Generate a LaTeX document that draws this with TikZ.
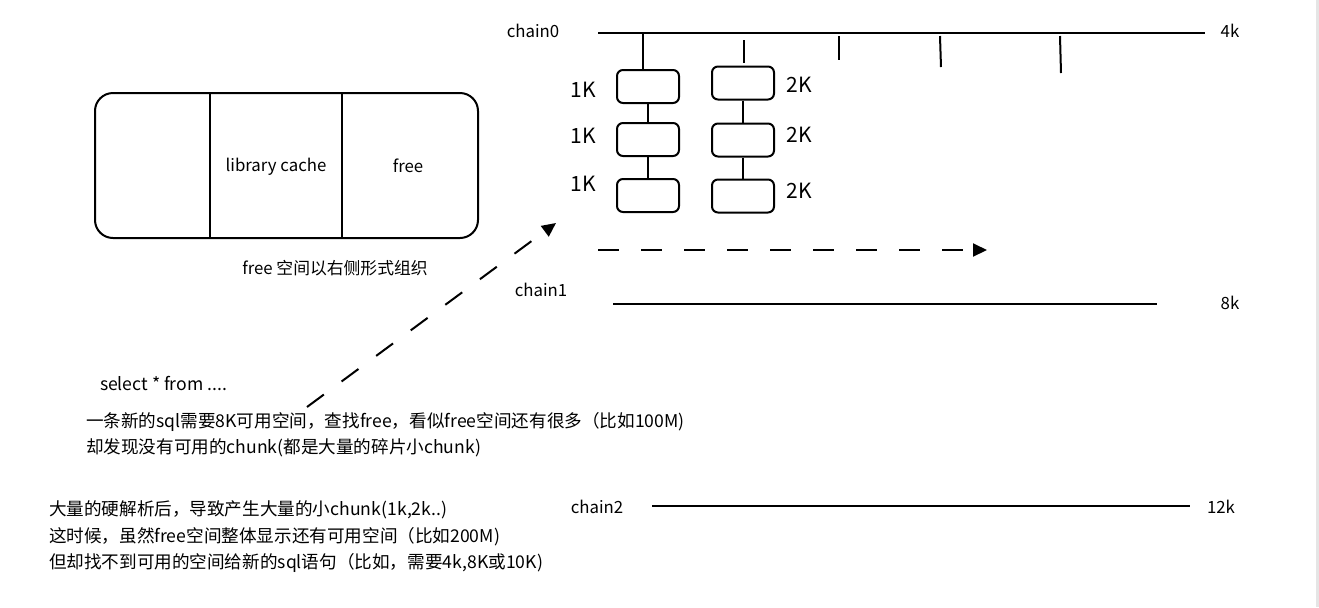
\documentclass[tikz,border=0pt]{standalone}
\usepackage{fontspec}
\setmainfont{Noto Sans CJK SC}
\usetikzlibrary{arrows.meta,positioning}

\tikzset{
  chunk/.style={draw, rounded corners=3pt, minimum width=31pt, minimum height=16.5pt},
  sizelbl/.style={font=\fontsize{10.5}{12}\selectfont},
  lbl/.style={font=\fontsize{8.4}{10}\selectfont},
  note/.style={font=\fontsize{8.8}{10}\selectfont, anchor=west, inner sep=0pt},
  dasharrow/.style={dash pattern=on 10.5pt off 11pt, -{Triangle[length=7pt,width=6.5pt]}}
}

\begin{document}
\begin{tikzpicture}[x=0.5pt,y=-0.5pt,line width=1pt]
        \useasboundingbox (0,0) rectangle (1319,607);
        \draw[gray!20, line width=1.5pt] (1317,0) -- (1317,607);
        % shared pool
        \draw[rounded corners=9pt] (95,93) rectangle (478,238);
        \draw (210,93) -- (210,238);
        \draw (342,93) -- (342,238);
        \node[lbl] (libcache) at (276,167) {library cache};
        \node[lbl] (freearea) at (408,166) {free};
        \node[lbl] (freenote) at (335,268) {free 空间以右侧形式组织};
        % chain0 with chunks
        \node[lbl] (chain0) at (533,31) {chain0};
        \coordinate (c0s) at (598,33);
        \coordinate (c0e) at (1205,33);
        \draw (c0s) -- (c0e);
        \node[lbl] (k4) at (1230,31) {4k};
        \node[chunk] (a1) at (648,86.5) {};
        \node[chunk, below=9pt of a1] (a2) {};
        \node[chunk, below=10.5pt of a2] (a3) {};
        \node[chunk] (b1) at (743,83) {};
        \node[chunk, below=11pt of b1] (b2) {};
        \node[chunk, below=10.5pt of b2] (b3) {};
        \coordinate (t0) at (643,33);
        \draw (t0) -- (t0 |- a1.north);
        \draw (a1.south) -- (a2.north);
        \draw (a2.south) -- (a3.north);
        \draw (b1.south) -- (b2.north);
        \draw (b2.south) -- (b3.north);
        \draw (744,40) -- (744,63);
        \draw (839,36) -- (839,60);
        \draw (940,36) -- (941,67);
        \draw (1060,36) -- (1061,73);
        \node[sizelbl] (a1k) at (583,90) {1K};
        \node[sizelbl] (a2k) at (583,136) {1K};
        \node[sizelbl] (a3k) at (583,184) {1K};
        \node[sizelbl] (b1k) at (799,85) {2K};
        \node[sizelbl] (b2k) at (799,135) {2K};
        \node[sizelbl] (b3k) at (799,191) {2K};
        \coordinate (h0) at (598,250);
        \coordinate (h1) at (987,250);
        \draw[dasharrow] (h0) -- (h1);
        % chain1 and chain2
        \node[lbl] (chain1) at (541,290) {chain1};
        \coordinate (c1s) at (613,304);
        \coordinate (c1e) at (1157,304);
        \draw (c1s) -- (c1e);
        \node[lbl] (k8) at (1230,303) {8k};
        \node[lbl] (chain2) at (597,507) {chain2};
        \coordinate (c2s) at (652,506);
        \coordinate (c2e) at (1190,506);
        \draw (c2s) -- (c2e);
        \node[lbl] (k12) at (1221,507) {12k};
        % new sql
        \node[note] (sql) at (99,383) {select * from ....};
        \coordinate (d0) at (307,407);
        \coordinate (d1) at (556,223);
        \draw[dasharrow] (d0) -- (d1);
        \node[note] (need1) at (85,422) {一条新的sql需要8K可用空间，查找free，看似free空间还有很多（比如100M)};
        \node[note] (need2) at (85,448) {却发现没有可用的chunk(都是大量的碎片小chunk)};
        \node[note] (sum1) at (48,510) {大量的硬解析后，导致产生大量的小chunk(1k,2k..)};
        \node[note] (sum2) at (48,537) {这时候，虽然free空间整体显示还有可用空间（比如200M)};
        \node[note] (sum3) at (48,563) {但却找不到可用的空间给新的sql语句（比如，需要4k,8K或10K)};
      \end{tikzpicture}
\end{document}
